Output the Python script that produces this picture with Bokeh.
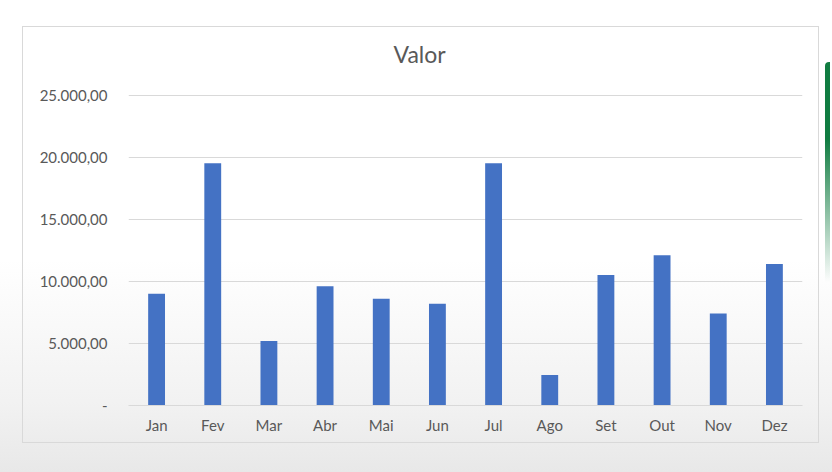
from bokeh.plotting import figure
from bokeh.models import FactorRange, Range1d, FixedTicker, ColumnDataSource, Div
from bokeh.layouts import row
from bokeh.embed import file_html
from bokeh.resources import INLINE

months = ["Jan", "Fev", "Mar", "Abr", "Mai", "Jun", "Jul", "Ago", "Set", "Out", "Nov", "Dez"]
values = [9000, 19500, 5200, 9600, 8600, 8200, 19500, 2450, 10500, 12100, 7400, 11400]
y_ticks = [0, 5000, 10000, 15000, 20000, 25000]
y_tick_labels = ["-", "5.000,00", "10.000,00", "15.000,00", "20.000,00", "25.000,00"]
title_text = "Valor"

FONT = "Lato"
TXT = "#595959"

# frame spans 332 px; the 25.000 gridline sits 310.5 px above the baseline
Y_MAX = 25000 * 332 / 310.5

src = ColumnDataSource(data=dict(month=months, valor=values))

p = figure(
    width=797, height=417,
    x_range=FactorRange(*months, range_padding=0),
    y_range=Range1d(0, Y_MAX),
    output_backend="svg", toolbar_location=None,
    title=title_text,
    min_border_left=105, min_border_right=18, min_border_top=46, min_border_bottom=39,
    styles={"border": "1px solid #d9d9d9"},
)
p.vbar(x="month", top="valor", width=0.3, source=src, fill_color="#4472C4", line_color=None)

p.title.text_font = FONT
p.title.text_font_size = "23px"
p.title.text_font_style = "normal"
p.title.text_color = TXT
p.title.align = "left"
p.title.offset = 265
p.title.vertical_align = "bottom"
p.title.standoff = 12

p.border_fill_alpha = 0
p.background_fill_alpha = 0
p.outline_line_color = None

p.xgrid.grid_line_color = None
p.ygrid.grid_line_color = "#d9d9d9"
p.ygrid.grid_line_width = 1

p.yaxis.ticker = FixedTicker(ticks=y_ticks)
p.yaxis.major_label_overrides = {t: l for t, l in zip(y_ticks, y_tick_labels)}
p.yaxis.axis_line_color = None
p.yaxis.major_tick_line_color = None
p.yaxis.minor_tick_line_color = None
p.yaxis.major_tick_out = 0
p.yaxis.major_label_standoff = 21
p.yaxis.major_label_text_font = FONT
p.yaxis.major_label_text_font_size = "15px"
p.yaxis.major_label_text_color = TXT

p.xaxis.axis_line_color = "#d9d9d9"
p.xaxis.major_tick_line_color = None
p.xaxis.minor_tick_line_color = None
p.xaxis.major_label_standoff = 4
p.xaxis.major_label_text_font = FONT
p.xaxis.major_label_text_font_size = "15px"
p.xaxis.major_label_text_color = TXT

accent = Div(
    text="", width=5, height=220, margin=(36, 0, 0, 6),
    styles={
        "background": "linear-gradient(to bottom, #107c41 0%, #107c41 35%, rgba(16,124,65,0) 100%)",
        "border-top-left-radius": "4px",
    },
)

layout = row(
    p, accent,
    width=832, height=472,
    styles={
        "padding-left": "22px",
        "padding-top": "26px",
        "box-sizing": "border-box",
        "background": "linear-gradient(to bottom, #ffffff 0%, #ffffff 55%, #f2f2f2 85%, #e8e8e8 100%)",
    },
)

open("out.html", "w").write(file_html(layout, INLINE))
